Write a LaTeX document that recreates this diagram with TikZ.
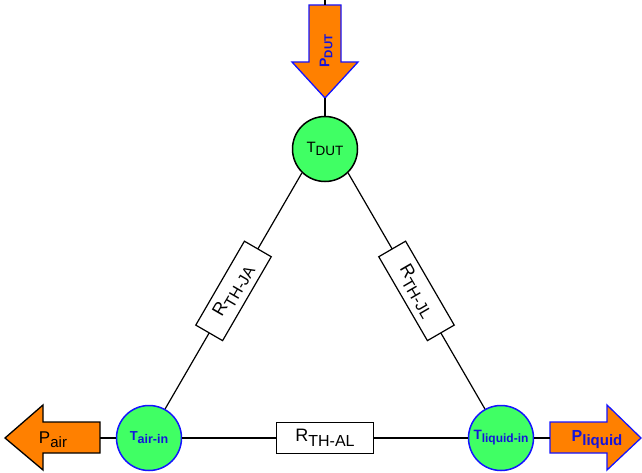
\documentclass[tikz,border=0pt]{standalone}
\usepackage{fontspec}
\setmainfont{Liberation Sans}
\definecolor{tgreen}{RGB}{64,255,100}
\definecolor{porange}{RGB}{255,128,0}
\definecolor{bblue}{RGB}{20,20,255}
\definecolor{tblue}{RGB}{20,20,220}
\newcommand\sublab[5]{{\fontsize{#1}{#1}\selectfont #2}\raisebox{-#5pt}{\fontsize{#3}{#3}\selectfont #4}}
\tikzset{
  wire/.style={draw=black, line width=1.2pt},
  tnode/.style={circle, minimum size=65pt, inner sep=0pt, fill=tgreen, line width=1.5pt},
  rbox/.style={draw=black, fill=white, minimum width=97pt, minimum height=31pt, inner sep=0pt, line width=1.2pt},
  parrow/.style={fill=porange, line width=1.3pt, line join=miter},
  lbl/.style={inner sep=0pt}
}
\begin{document}
\begin{tikzpicture}[x=1pt,y=-1pt]
\useasboundingbox (0,0) rectangle (642,473);
% power arrows
\draw[parrow, draw=bblue] (309,5) -- (341,5) -- (341,62) -- (358,62) -- (325,98) -- (292,62) -- (309,62) -- cycle;
\draw[parrow, draw=black] (100,422) -- (100,453) -- (43,453) -- (43,470) -- (5,438) -- (43,405) -- (43,422) -- cycle;
\draw[parrow, draw=bblue] (550,422) -- (607,422) -- (607,405) -- (641,438) -- (607,470) -- (607,453) -- (550,453) -- cycle;
\coordinate (ptop) at (325,0);
\coordinate (pdutb) at (325,5);
\coordinate (pdut) at (325,98);
\coordinate (pair) at (100,438);
\coordinate (pliq) at (550,438);
\node[lbl, rotate=90, text=tblue, font=\bfseries] (tpdut) at (326,51) {\sublab{14}{P}{11.5}{DUT}{3}};
\node[lbl] (tpair) at (53,440) {\sublab{17}{P}{15}{air}{4}};
\node[lbl, text=tblue, font=\bfseries] (tpliq) at (597,440) {\sublab{16}{P}{15}{liquid}{4}};
% temperature nodes
\node[tnode, draw=black] (dut) at (325,149) {\sublab{15}{T}{13.5}{DUT}{3.3}};
\node[tnode, draw=bblue, text=tblue, font=\bfseries] (air) at (149,438) {\sublab{13}{T}{12.5}{air-in}{3}};
\node[tnode, draw=bblue, text=tblue, font=\bfseries] (liq) at (501,438) {\sublab{13.5}{T}{12}{liquid-in}{3}};
% connections
\draw[wire] (ptop) -- (pdutb);
\draw[wire] (pdut) -- (dut);
\draw[wire] (pair) -- (air);
\draw[wire] (liq) -- (pliq);
\draw[wire] (dut.226) -- node[rbox, sloped] (rja) {\sublab{18}{R}{16}{TH-JA}{5.5}} (air.61);
\draw[wire] (dut.-46) -- node[rbox, sloped] (rjl) {\sublab{18}{R}{16}{TH-JL}{5.5}} (liq.119);
\draw[wire] (air) -- node[rbox] (ral) {\sublab{18}{R}{16}{TH-AL}{5.5}} (liq);
\end{tikzpicture}
\end{document}
